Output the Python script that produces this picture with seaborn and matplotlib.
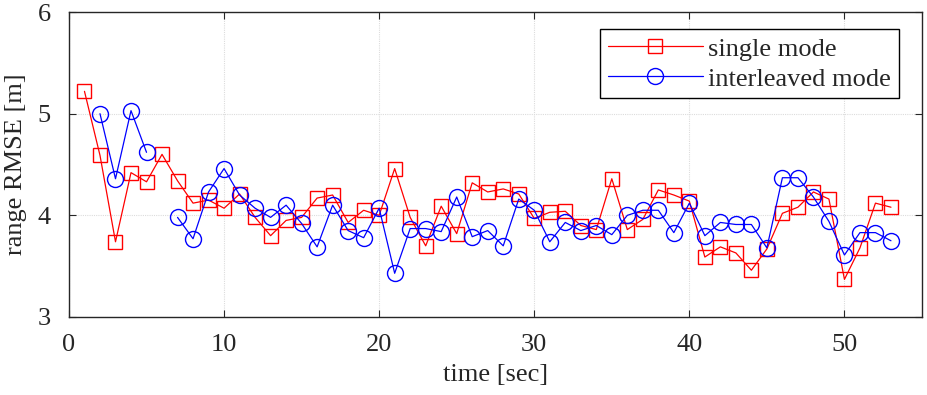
import matplotlib
matplotlib.use("Agg")
import matplotlib.pyplot as plt
import numpy as np
import pandas as pd
import seaborn as sns

# time axis (sec)
TIME = list(range(1, 54))

# single mode RMSE, one value per second 1..53
SINGLE_RMSE = [
    5.22, 4.59, 3.74, 4.42, 4.33, 4.60, 4.34, 4.12, 4.15, 4.07,
    4.21, 3.98, 3.80, 3.95, 3.98, 4.17, 4.20, 3.93, 4.05, 4.00,
    4.46, 3.98, 3.70, 4.09, 3.82, 4.32, 4.23, 4.26, 4.21, 3.97,
    4.03, 4.04, 3.90, 3.86, 4.36, 3.86, 3.96, 4.25, 4.20, 4.14,
    3.59, 3.69, 3.63, 3.46, 3.67, 4.02, 4.08, 4.23, 4.16, 3.37,
    3.68, 4.12, 4.08,
]

# interleaved mode RMSE, NaN where there is no estimate
INTERLEAVED_RMSE = [
    np.nan, 5.00, 4.36, 5.03, 4.62, np.nan, 3.98, 3.77, 4.23, 4.46,
    4.20, 4.07, 3.98, 4.10, 3.92, 3.69, 4.10, 3.85, 3.78, 4.07,
    3.43, 3.87, 3.87, 3.84, 4.18, 3.79, 3.85, 3.70, 4.16, 4.05,
    3.74, 3.93, 3.85, 3.90, 3.81, 4.00, 4.05, 4.05, 3.83, 4.12,
    3.80, 3.93, 3.91, 3.91, 3.68, 4.37, 4.37, 4.18, 3.94, 3.61,
    3.83, 3.83, 3.75,
]

LABELS = ["single mode", "interleaved mode"]
X_TICKS = [0, 10, 20, 30, 40, 50]
Y_TICKS = [3, 4, 5, 6]


def to_segments(x, y) -> pd.DataFrame:
    # split a series at NaN gaps so the line is not joined across them
    df = pd.DataFrame({"time": x, "rmse": y})
    df["seg"] = df["rmse"].isna().cumsum()
    return df.dropna(subset=["rmse"])


def main() -> None:
    sns.set_theme(style="white")
    plt.rcParams["font.family"] = ["Liberation Serif", "DejaVu Serif"]

    fig = plt.figure(figsize=(9.27, 3.95), dpi=100)
    ax = fig.add_axes([0.0744, 0.1975, 0.9202, 0.772])

    single = to_segments(TIME, SINGLE_RMSE)
    inter = to_segments(TIME, INTERLEAVED_RMSE)

    sns.lineplot(
        data=single, x="time", y="rmse", units="seg", estimator=None,
        color="#ff0000", marker="s", markersize=10.5, markerfacecolor="none",
        markeredgecolor="#ff0000", markeredgewidth=1.0, linewidth=0.9, ax=ax,
    )
    n_single = len(ax.lines)
    sns.lineplot(
        data=inter, x="time", y="rmse", units="seg", estimator=None,
        color="#0000ff", marker="o", markersize=11.5, markerfacecolor="none",
        markeredgecolor="#0000ff", markeredgewidth=1.0, linewidth=0.9, ax=ax,
    )

    ax.set_xlim(0, 55)
    ax.set_ylim(3, 6)
    ax.set_xticks(X_TICKS)
    ax.set_yticks(Y_TICKS)
    ax.set_xlabel("time [sec]", fontsize=19, labelpad=6)
    ax.set_ylabel("range RMSE [m]", fontsize=19, labelpad=8)
    ax.tick_params(direction="in", length=5, width=0.8, color="#262626",
                   labelsize=19, top=True, right=True, bottom=True, left=True)
    ax.tick_params(axis="x", pad=12)
    ax.tick_params(axis="y", pad=13)

    ax.grid(True, color="#dcdcdc", linestyle=(0, (1, 1)), linewidth=0.8)
    for sp in ax.spines.values():
        sp.set_color("#262626")
        sp.set_linewidth(1.0)

    handles = [ax.lines[0], ax.lines[n_single]]
    leg = ax.legend(
        handles, LABELS, loc="upper right", bbox_to_anchor=(0.973, 0.944),
        fontsize=19, frameon=True, fancybox=False, framealpha=1,
        edgecolor="#000000", handlelength=3.6, handletextpad=0.2,
        labelspacing=0.25, borderpad=0.3, borderaxespad=0,
    )
    leg.get_frame().set_linewidth(1.0)

    fig.savefig("out.png", dpi=100)
    plt.close(fig)


if __name__ == "__main__":
    main()
